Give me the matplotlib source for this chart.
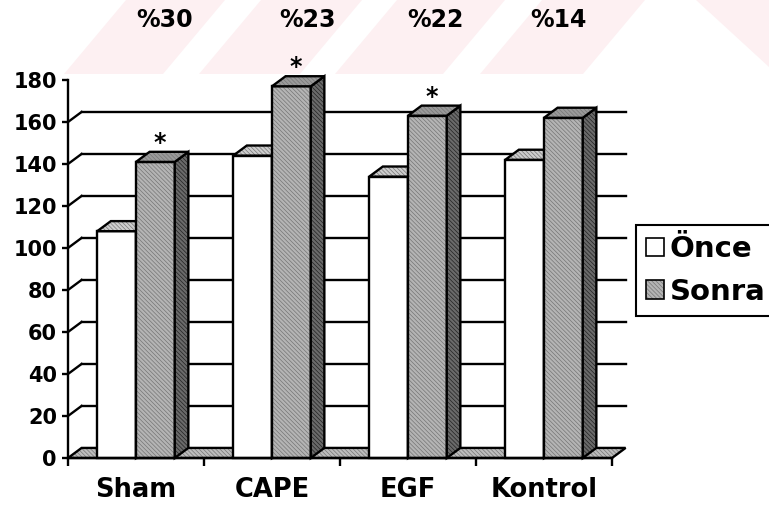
import numpy as np
import matplotlib.pyplot as plt
from matplotlib.patches import Polygon, Patch

plt.rcParams['font.family'] = ['DejaVu Sans']
plt.rcParams['font.weight'] = 'bold'
plt.rcParams['hatch.linewidth'] = 0.5

# veriler
gruplar = ['Sham', 'CAPE', 'EGF', 'Kontrol']
once = [108, 144, 134, 142]
sonra = [141, 177, 163, 162]
artis = ['%30', '%23', '%22', '%14']
anlamli = [True, True, True, False]
y_ticks = list(range(0, 181, 20))
izgara = list(range(20, 161, 20))

W, H = 769, 509
fig = plt.figure(figsize=(W / 100, H / 100), dpi=100)

# arka plandaki soluk pembe serit deseni (piksel koordinatlari)
bg = fig.add_axes([0, 0, 1, 1], zorder=-1)
bg.set_xlim(0, W)
bg.set_ylim(H, 0)
bg.axis('off')
pembe = '#fdf0f2'
kayma = 62
for a, b in [(64, 163), (199, 300), (335, 443), (480, 583)]:
    bg.add_patch(Polygon([(a, 74), (b, 74), (b + kayma, 0), (a + kayma, 0)],
                         closed=True, facecolor=pembe, edgecolor='none'))
bg.add_patch(Polygon([(696, 0), (769, 0), (769, 67)], closed=True,
                     facecolor=pembe, edgecolor='none'))

ax = fig.add_axes([68 / W, (H - 458) / H, 544 / W, 378 / H])
ax.patch.set_visible(False)
ax.set_xlim(-0.5, 3.5)
ax.set_ylim(0, 180)

dx, dy = 0.1, 4.8      # derinlik kaymasi
w = 0.285              # sutun genisligi
tarama = '\\' * 8
tarama_renk = '#767676'


def yuz(pts, renk, z, desen=True, hrenk=tarama_renk):
    ax.add_patch(Polygon(pts, closed=True, facecolor=renk, edgecolor='none',
                         zorder=z, clip_on=False))
    if desen:
        ax.add_patch(Polygon(pts, closed=True, fill=False, edgecolor=hrenk,
                             hatch=tarama, lw=0, zorder=z, clip_on=False))
    ax.add_patch(Polygon(pts, closed=True, fill=False, edgecolor='black',
                         lw=1.7, joinstyle='miter', zorder=z, clip_on=False))


def sutun(x0, v, on, yan, ust, z, on_desen):
    yuz([(x0, 0), (x0 + w, 0), (x0 + w, v), (x0, v)], on, z, on_desen)
    yuz([(x0 + w, 0), (x0 + w + dx, dy), (x0 + w + dx, v + dy), (x0 + w, v)],
        yan, z, True, '#222222')
    yuz([(x0, v), (x0 + w, v), (x0 + w + dx, v + dy), (x0 + dx, v + dy)], ust, z)


# zemin
yuz([(-0.5, 0), (3.5, 0), (3.5 + dx, dy), (-0.5 + dx, dy)], '#bdbdbd', 1.5)

# arka duvar izgara cizgileri
for v in izgara:
    ax.plot([-0.5, -0.5 + dx], [v, v + dy], color='black', lw=1.7,
            zorder=1, clip_on=False)
    ax.plot([-0.5 + dx, 3.5 + dx], [v + dy, v + dy], color='black', lw=1.7,
            zorder=1, clip_on=False)

for i in range(len(gruplar)):
    sutun(i - w, once[i], 'white', '#c8c8c8', '#cdcdcd', 3 + i * 0.1, False)
    sutun(i, sonra[i], '#b4b4b4', '#6a6a6a', '#9a9a9a', 3.05 + i * 0.1, True)
    if anlamli[i]:
        ax.text(i + w / 2 + 0.035, sonra[i] + dy - 1.5, '*', ha='center',
                va='bottom', fontsize=17, zorder=5)

# eksenler
for s in ['top', 'right']:
    ax.spines[s].set_visible(False)
for s in ['left', 'bottom']:
    ax.spines[s].set_linewidth(1.7)
    ax.spines[s].set_zorder(6)

ax.set_yticks(y_ticks)
ax.tick_params(axis='y', direction='out', length=4, width=1.7, pad=4, labelsize=15)
ax.set_xticks([-0.5, 0.5, 1.5, 2.5, 3.5])
ax.set_xticklabels([])
ax.set_xticks(range(len(gruplar)), minor=True)
ax.set_xticklabels(gruplar, minor=True)
ax.tick_params(axis='x', which='major', direction='out', length=6, width=1.7)
ax.tick_params(axis='x', which='minor', length=0, pad=14, labelsize=18.5)

# yuzde artis etiketleri
for cx, t in zip([165, 308, 435, 558], artis):
    fig.text(cx / W, 1 - 20 / H, t, ha='center', va='center', fontsize=17)

# lejant
h1 = Patch(facecolor='white', edgecolor='black', lw=1.2)
h2 = (Patch(facecolor='#b4b4b4', edgecolor=tarama_renk, hatch=tarama, lw=0),
      Patch(fill=False, edgecolor='black', lw=1.2))
leg = fig.legend([h1, h2], ['Önce', 'Sonra'], loc='upper left',
                 bbox_to_anchor=(636 / W, 1 - 225 / H), fontsize=21,
                 frameon=True, fancybox=False, framealpha=1,
                 handlelength=0.6, handleheight=0.6, handletextpad=0.2,
                 borderpad=0.35, labelspacing=0.5, borderaxespad=0)
leg.get_frame().set_edgecolor('black')
leg.get_frame().set_linewidth(1.5)

fig.savefig('out.png', dpi=100)
